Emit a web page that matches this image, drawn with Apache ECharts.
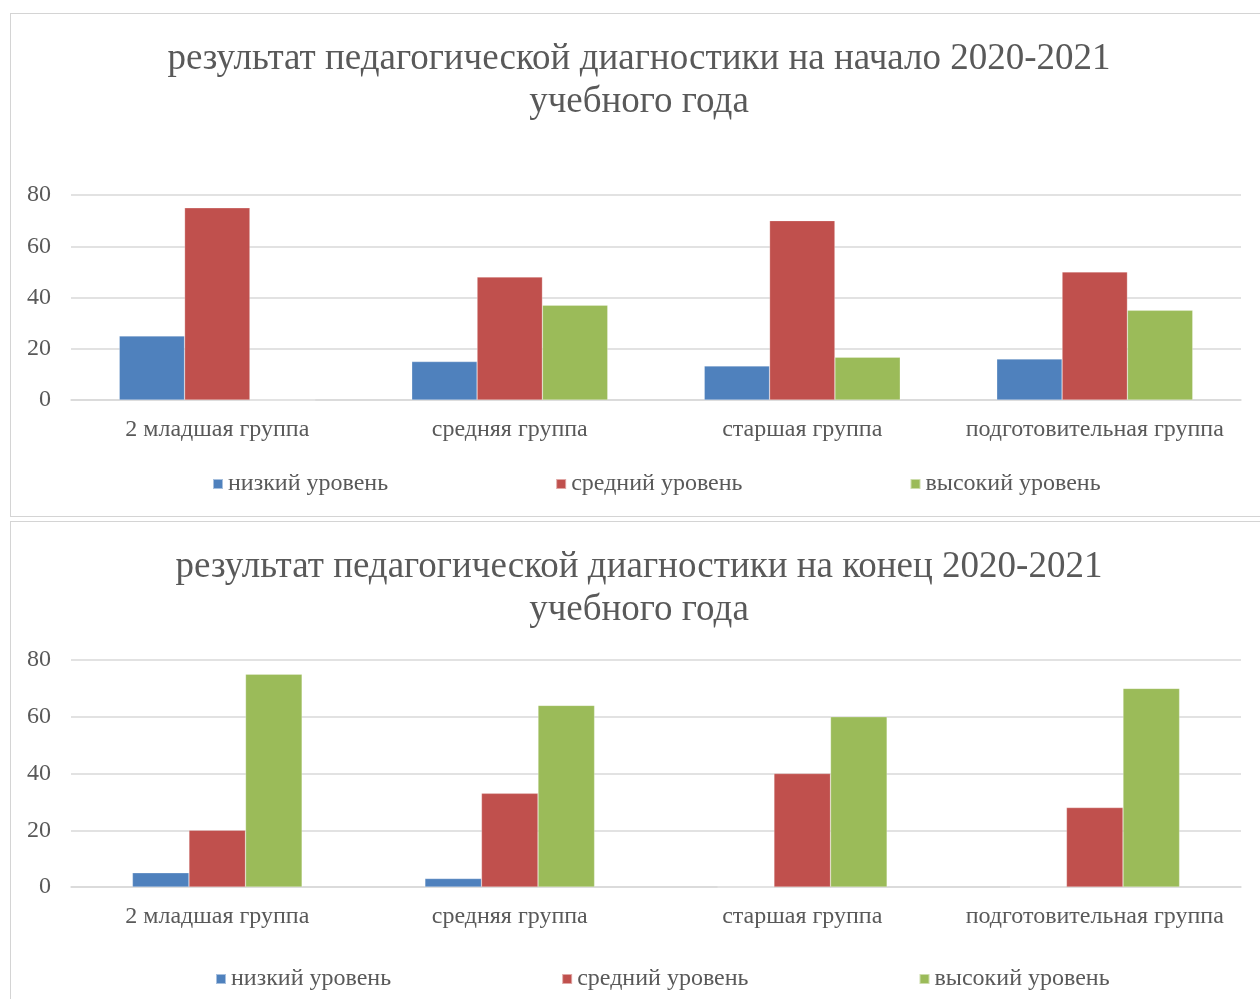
<!DOCTYPE html>
<html>
<head>
<meta charset="utf-8">
<script src="https://cdn.jsdelivr.net/npm/echarts@6/dist/echarts.min.js"></script>
<style>
  html, body { margin: 0; padding: 0; background: #ffffff; overflow: hidden; width: 1260px; height: 999px; }
  .frame { position: absolute; border: 1px solid #d4d4d4; background: #fff; }
  #c1 { left: 10px; top: 13px; width: 1256px; height: 502px; }
  #c2 { left: 10px; top: 521px; width: 1256px; height: 500px; }
</style>
</head>
<body>
<div id="c1" class="frame"></div>
<div id="c2" class="frame"></div>
<script>
const categories = ['2 младшая группа', 'средняя группа', 'старшая группа', 'подготовительная группа'];
const seriesNames = ['низкий уровень', 'средний уровень', 'высокий уровень'];
const colors = ['#4F81BD', '#C0504D', '#9BBB59'];

const title1 = 'результат педагогической диагностики на начало 2020-2021\nучебного года';
const lowStart = [25, 15, 13.3, 16];
const midStart = [75, 48, 70, 50];
const highStart = [0, 37, 16.7, 35];

const title2 = 'результат педагогической диагностики на конец 2020-2021\nучебного года';
const lowEnd = [5, 3, 0, 0];
const midEnd = [20, 33, 40, 28];
const highEnd = [75, 64, 60, 70];

const FONT = "'Liberation Serif', 'DejaVu Serif', serif";
const TXT = '#595959';

function makeOption(cfg) {
  const vals = [cfg.low, cfg.mid, cfg.high];
  return {
    animation: false,
    color: colors,
    title: {
      text: cfg.title,
      left: 'center',
      top: cfg.titleTop,
      textStyle: { fontFamily: FONT, fontSize: 37, fontWeight: 'normal', color: TXT, lineHeight: 43 }
    },
    legend: {
      data: seriesNames,
      left: cfg.legendLeft,
      top: cfg.legendTop,
      itemWidth: 10,
      itemHeight: 10,
      itemGap: cfg.legendGap,
      icon: 'rect',
      selectedMode: false,
      textStyle: { fontFamily: FONT, fontSize: 24, color: TXT }
    },
    grid: { left: 60, top: cfg.gridTop, width: 1170, height: cfg.gridHeight, containLabel: false },
    xAxis: {
      type: 'category',
      data: categories,
      axisLine: { show: true, lineStyle: { color: '#d9d9d9', width: 1.5 } },
      axisTick: { show: false },
      axisLabel: { fontFamily: FONT, fontSize: 24, color: TXT, margin: 18, interval: 0 },
      splitLine: { show: false }
    },
    yAxis: {
      type: 'value',
      min: 0, max: 80, interval: 20,
      axisLine: { show: false },
      axisTick: { show: false },
      axisLabel: { fontFamily: FONT, fontSize: 24, color: TXT, margin: 20 },
      splitLine: { lineStyle: { color: '#d9d9d9', width: 1.5 } }
    },
    series: seriesNames.map((n, i) => ({
      name: n,
      type: 'bar',
      data: vals[i],
      barGap: '0%',
      barCategoryGap: cfg.catGap,
      itemStyle: { color: colors[i], borderColor: 'rgba(255,255,255,0.5)', borderWidth: 0.5 }
    }))
  };
}

const ch1 = echarts.init(document.getElementById('c1'), null, { renderer: 'canvas' });
ch1.setOption(makeOption({
  title: title1, titleTop: 19,
  low: lowStart, mid: midStart, high: highStart,
  gridTop: 181, gridHeight: 205, catGap: '33%',
  legendLeft: 196, legendTop: 453, legendGap: 167
}));

const ch2 = echarts.init(document.getElementById('c2'), null, { renderer: 'canvas' });
ch2.setOption(makeOption({
  title: title2, titleTop: 19,
  low: lowEnd, mid: midEnd, high: highEnd,
  gridTop: 138, gridHeight: 227, catGap: '42%',
  legendLeft: 199, legendTop: 440, legendGap: 170
}));
</script>
</body>
</html>
